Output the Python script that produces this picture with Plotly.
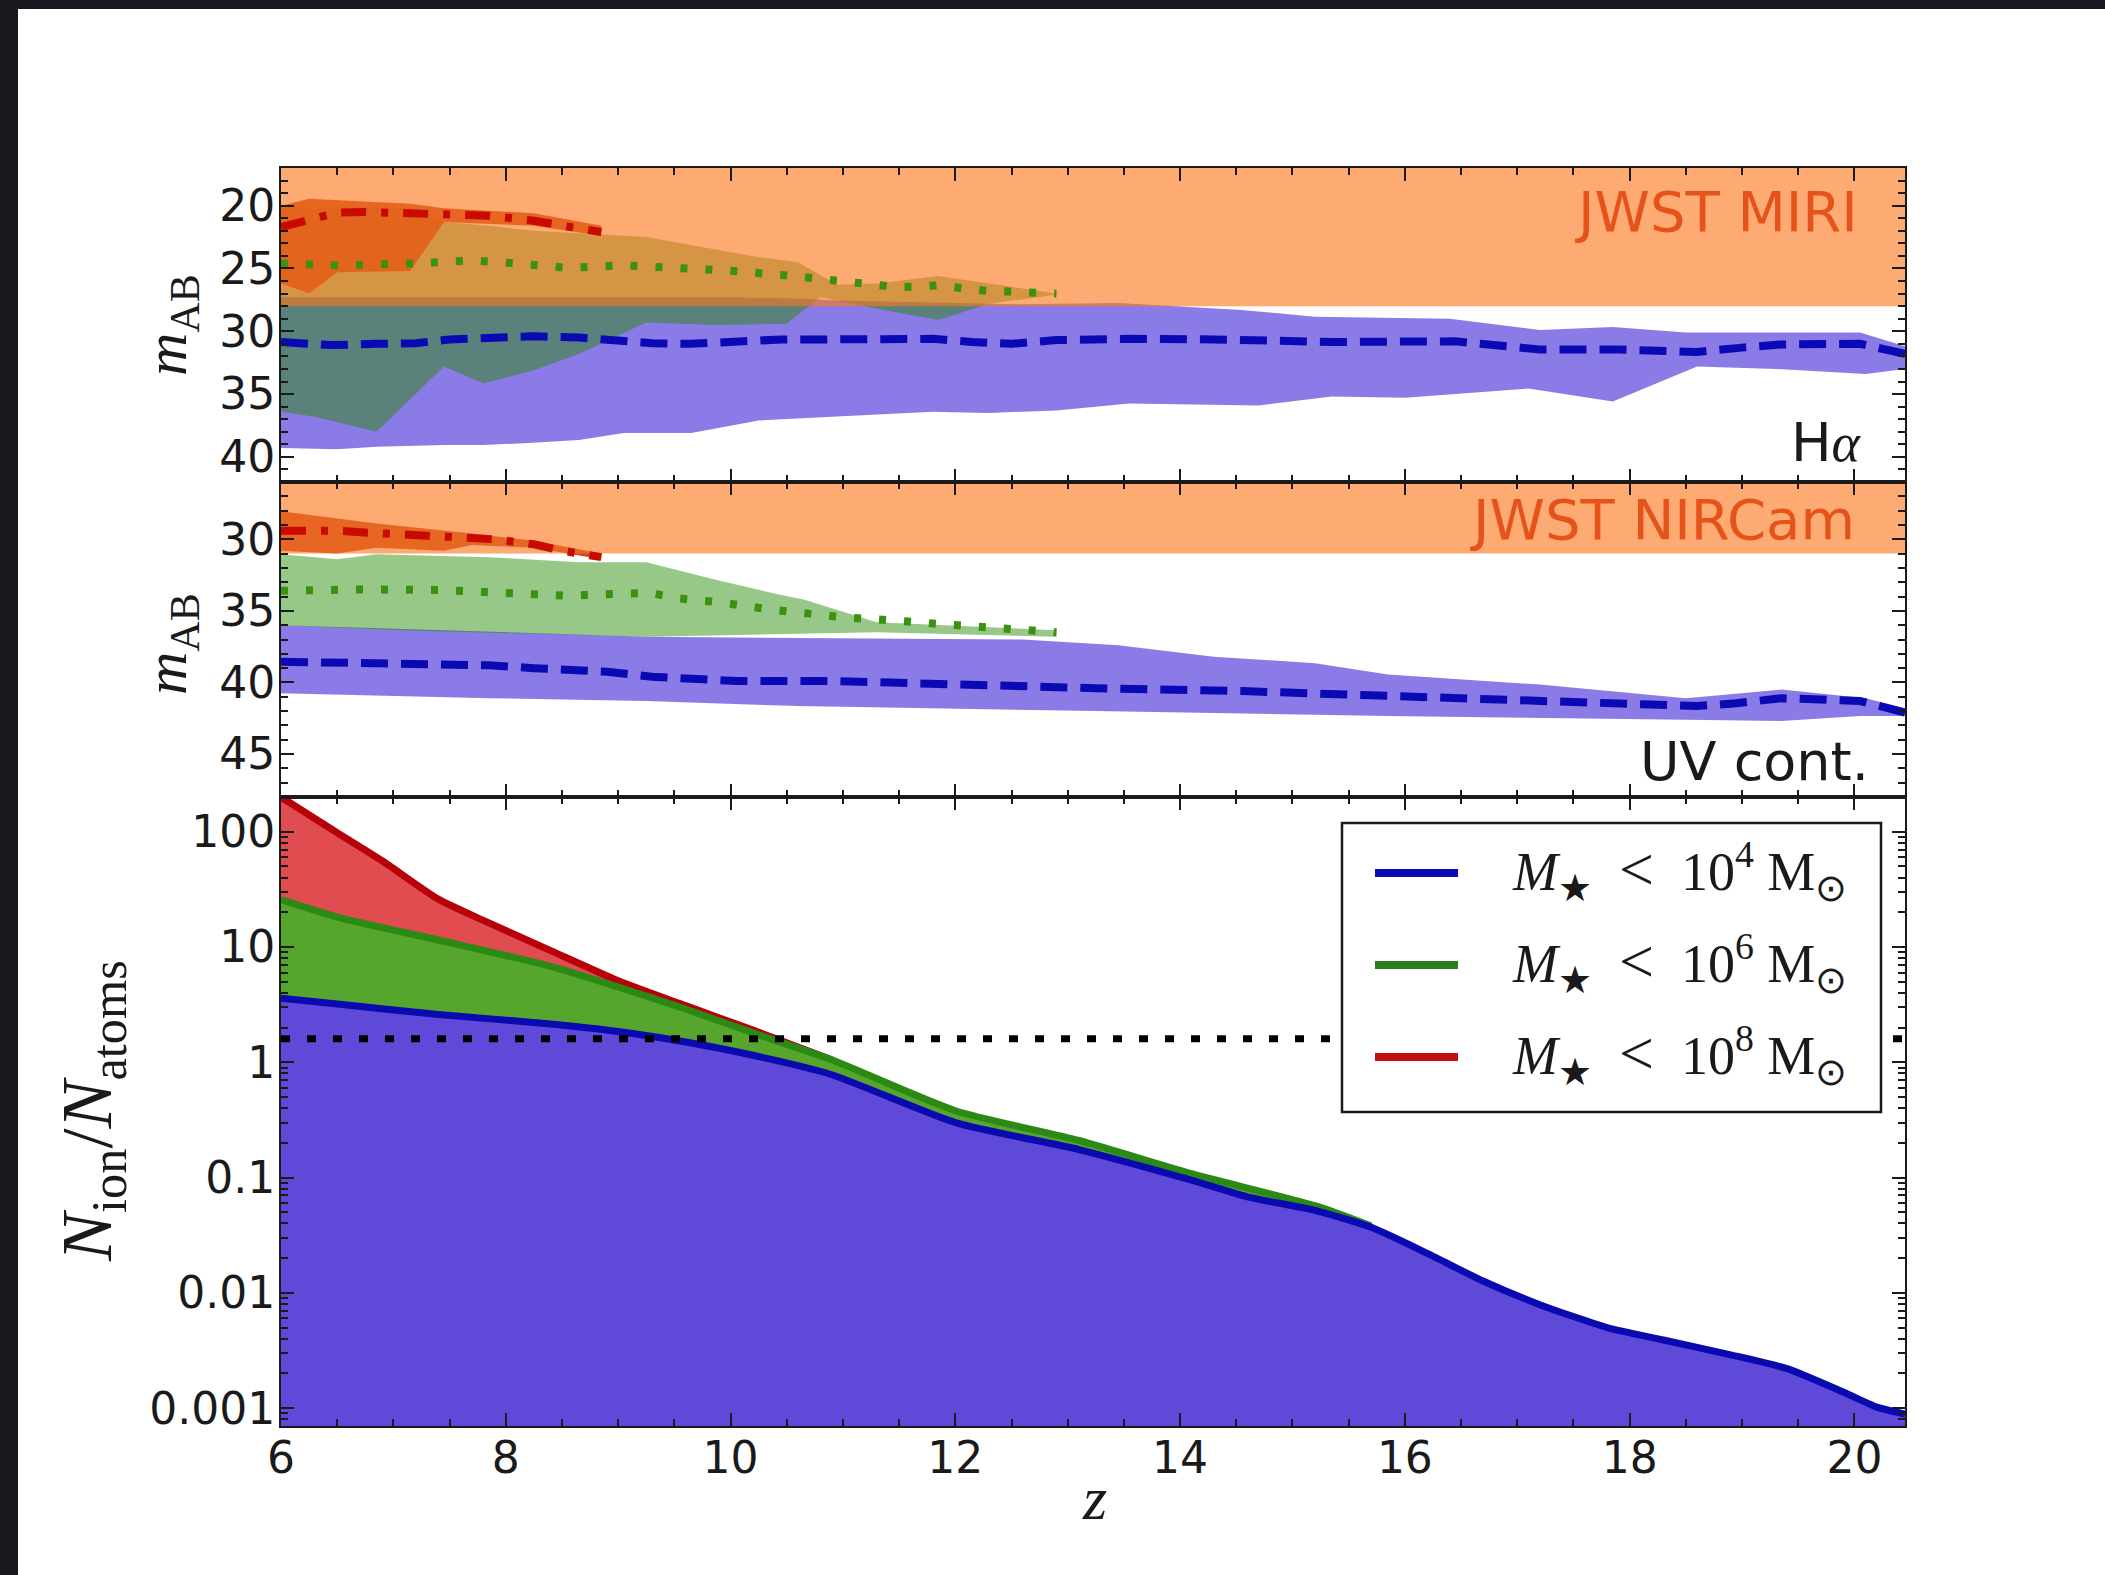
import numpy as np
import plotly.graph_objects as go

# ------------------------------------------------------------------
# Redshift range and instrument detection limits (AB magnitudes)
# ------------------------------------------------------------------
Z_MIN, Z_MAX = 6.0, 20.45
MIRI_LIMIT = 28.0
NIRCAM_LIMIT = 31.0
NION_THRESHOLD = 1.6

# ------------------------------------------------------------------
# H-alpha apparent magnitudes (top panel)
# ------------------------------------------------------------------
z_ha_1e4 = [6.0, 6.45, 6.85, 7.2, 7.5, 7.9, 8.25, 8.65, 8.95, 9.3, 9.65, 10.0, 10.45,
            10.85, 11.8, 12.15, 12.5, 12.9, 13.55, 14.3, 15.35, 16.45, 16.8, 17.2,
            17.9, 18.25, 18.6, 19.0, 19.35, 20.05, 20.45]
ha_1e4 = [30.85, 31.1, 31.0, 30.95, 30.65, 30.45, 30.4, 30.5, 30.7, 30.95, 31.0, 30.8,
          30.65, 30.65, 30.6, 30.85, 31.0, 30.7, 30.6, 30.65, 30.85, 30.8, 31.1, 31.45,
          31.45, 31.5, 31.65, 31.3, 31.05, 31.0, 31.8]
z_ha_1e4_hi = [6.0, 7.0, 8.0, 9.0, 10.0, 10.6, 10.95, 11.8, 12.6, 13.45, 14.55, 15.2,
               16.4, 17.2, 17.85, 18.5, 20.05, 20.45]
ha_1e4_hi = [27.3, 27.3, 27.25, 27.3, 27.3, 27.4, 27.55, 27.7, 27.85, 27.75, 28.3, 28.85,
             29.0, 29.9, 29.65, 30.1, 30.1, 31.2]
z_ha_1e4_lo = [6.0, 6.5, 6.85, 7.45, 7.8, 8.2, 8.65, 9.05, 9.65, 10.25, 10.9, 11.8, 12.3,
               12.9, 13.55, 14.1, 14.7, 15.35, 16.0, 16.6, 17.1, 17.85, 18.6, 19.3, 20.1,
               20.45]
ha_1e4_lo = [39.3, 39.4, 39.2, 39.05, 39.05, 38.9, 38.65, 38.1, 38.1, 37.1, 36.8, 36.4,
             36.5, 36.3, 35.75, 35.8, 35.9, 35.2, 35.3, 34.9, 34.55, 35.6, 32.8, 33.0,
             33.4, 33.0]

z_ha_1e6 = [6.0, 6.5, 7.2, 7.7, 8.1, 8.55, 9.05, 9.45, 9.95, 10.5, 10.9, 11.1, 11.5,
            11.85, 12.25, 12.9]
ha_1e6 = [24.6, 24.75, 24.6, 24.35, 24.6, 24.95, 24.75, 24.9, 25.15, 25.55, 25.9, 26.2,
          26.5, 26.35, 26.75, 27.0]
z_ha_1e6_hi = [6.0, 7.2, 7.45, 7.85, 8.25, 9.05, 9.25, 10.25, 10.6, 10.95, 11.3, 11.85,
               12.3, 12.9]
ha_1e6_hi = [20.0, 20.2, 21.3, 21.6, 22.0, 22.4, 22.5, 24.1, 24.5, 26.3, 26.2, 25.6,
             26.2, 27.0]
z_ha_1e6_lo = [6.0, 6.3, 6.85, 7.45, 7.8, 8.25, 8.65, 9.25, 9.85, 10.5, 10.8, 11.3,
               11.85, 12.3, 12.9]
ha_1e6_lo = [36.4, 36.8, 38.0, 32.8, 34.15, 33.1, 31.8, 29.3, 29.5, 29.4, 27.3, 28.2,
             29.1, 27.8, 27.1]

z_ha_1e8 = [6.0, 6.5, 6.75, 7.45, 7.85, 8.25, 8.65, 8.85]
ha_1e8 = [21.7, 20.55, 20.5, 20.65, 20.8, 21.2, 21.7, 22.1]
z_ha_1e8_hi = [6.0, 6.25, 7.15, 7.45, 8.25, 8.85]
ha_1e8_hi = [20.0, 19.45, 19.85, 20.2, 20.6, 21.6]
z_ha_1e8_lo = [6.0, 6.25, 6.5, 7.15, 7.45, 8.25, 8.85]
ha_1e8_lo = [26.2, 27.0, 25.3, 25.2, 21.3, 21.6, 22.4]

# ------------------------------------------------------------------
# UV continuum apparent magnitudes (middle panel)
# ------------------------------------------------------------------
z_uv_1e4 = [6.0, 6.6, 7.45, 7.85, 8.25, 8.65, 8.9, 9.3, 9.65, 10.05, 10.9, 11.95, 13.25,
            14.55, 15.85, 17.2, 17.85, 18.6, 18.95, 19.35, 20.05, 20.45]
uv_1e4 = [38.55, 38.6, 38.65, 38.8, 39.0, 39.1, 39.25, 39.6, 39.8, 39.9, 39.9, 40.15,
          40.4, 40.6, 40.95, 41.25, 41.45, 41.65, 41.45, 41.1, 41.3, 42.1]
z_uv_1e4_hi = [6.0, 7.05, 7.85, 9.25, 10.6, 12.6, 13.45, 14.3, 15.2, 15.85, 17.2, 18.5,
               19.35, 20.1, 20.45]
uv_1e4_hi = [36.0, 36.25, 36.45, 36.8, 36.9, 37.0, 37.4, 38.2, 38.65, 39.45, 40.15, 41.1,
             40.5, 41.1, 41.8]
z_uv_1e4_lo = [6.0, 7.85, 9.25, 10.6, 13.25, 15.85, 18.5, 19.35, 20.05, 20.45]
uv_1e4_lo = [40.75, 41.1, 41.3, 41.65, 42.0, 42.35, 42.6, 42.7, 42.35, 42.35]

z_uv_1e6 = [6.0, 6.7, 7.45, 8.1, 8.55, 9.05, 9.3, 9.5, 9.9, 10.35, 10.8, 11.0, 11.4,
            11.8, 12.2, 12.6, 12.9]
uv_1e6 = [33.6, 33.5, 33.55, 33.75, 33.95, 33.8, 33.75, 34.1, 34.4, 34.9, 35.3, 35.45,
          35.65, 35.9, 36.1, 36.35, 36.5]
z_uv_1e6_hi = [6.0, 6.5, 6.85, 7.85, 8.65, 9.25, 9.85, 10.45, 10.65, 11.3, 12.9]
uv_1e6_hi = [31.05, 31.4, 31.05, 31.25, 31.6, 31.6, 32.8, 33.9, 34.2, 35.8, 36.35]
z_uv_1e6_lo = [6.0, 7.05, 8.25, 9.25, 10.6, 11.3, 12.9]
uv_1e6_lo = [36.0, 36.35, 36.6, 36.8, 36.6, 36.5, 36.8]

z_uv_1e8 = [6.0, 6.5, 6.8, 7.2, 7.7, 7.9, 8.25, 8.5, 8.85]
uv_1e8 = [29.4, 29.4, 29.55, 29.75, 29.9, 30.0, 30.35, 30.8, 31.25]
z_uv_1e8_hi = [6.0, 6.85, 7.7, 8.25, 8.85]
uv_1e8_hi = [28.05, 28.9, 29.6, 30.1, 31.0]
z_uv_1e8_lo = [6.0, 6.5, 6.85, 7.45, 7.7, 8.25, 8.85]
uv_1e8_lo = [30.8, 31.0, 30.6, 30.8, 30.4, 30.6, 31.4]

# ------------------------------------------------------------------
# Ionizing photons per atom (bottom panel)
# ------------------------------------------------------------------
z_nion_1e4 = [6.0, 6.5, 7.4, 8.4, 9.0, 9.6, 10.2, 10.9, 12.0, 13.1, 14.1, 14.6, 15.2,
              15.7, 16.2, 16.7, 17.2, 17.8, 18.3, 18.9, 19.4, 19.9, 20.2, 20.45]
nion_1e4 = [3.6, 3.2, 2.6, 2.15, 1.85, 1.5, 1.15, 0.78, 0.30, 0.175, 0.095, 0.068, 0.052,
            0.037, 0.022, 0.0126, 0.0079, 0.0050, 0.0039, 0.0029, 0.0022, 0.00138,
            0.00102, 0.00089]
z_nion_1e6 = [6.0, 6.5, 7.4, 8.4, 9.0, 9.6, 10.2, 10.9, 12.0, 13.1, 14.1, 15.2, 15.7]
nion_1e6 = [25.8, 18.2, 11.5, 6.8, 4.5, 2.9, 1.8, 1.05, 0.38, 0.21, 0.108, 0.057, 0.038]
z_nion_1e8 = [6.0, 6.5, 6.9, 7.4, 7.8, 8.4, 9.0, 9.6, 10.2, 10.9]
nion_1e8 = [200, 98, 56, 26, 17, 9.3, 5.1, 3.1, 1.9, 1.05]

# Axis tick labels
z_ticks = [6, 8, 10, 12, 14, 16, 18, 20]
ha_ticks = [20, 25, 30, 35, 40]
uv_ticks = [30, 35, 40, 45]
nion_ticks = [0.001, 0.01, 0.1, 1, 10, 100]
nion_ticklabels = ["0.001", "0.01", "0.1", "1", "10", "100"]

LT = '&nbsp;&nbsp;<span style="font-size:62px">&lt;</span>&nbsp;&nbsp;'
legend_labels = [
    "<i>M</i><sub>★</sub>" + LT + "10<sup>4</sup> M<sub>⊙</sub>",
    "<i>M</i><sub>★</sub>" + LT + "10<sup>6</sup> M<sub>⊙</sub>",
    "<i>M</i><sub>★</sub>" + LT + "10<sup>8</sup> M<sub>⊙</sub>",
]

# ------------------------------------------------------------------
# Styling
# ------------------------------------------------------------------
W, H = 2105, 1575
PL, PR, PT, PB = 281, 1905, 168, 1426          # plot area in pixels
HA_RANGE = [42.0, 17.0]
UV_RANGE = [48.0, 26.0]
NION_FLOOR = 1e-4
NION_RANGE = [np.log10(7e-4), np.log10(200)]

BAND_BLUE = "rgba(110,90,225,0.8)"
BAND_GREEN = "rgba(36,138,0,0.47)"
BAND_RED = "rgba(190,60,20,0.9)"
BAND_JWST = "rgba(252,118,29,0.62)"
LINE_BLUE = "#0a0ab4"
LINE_GREEN = "#3a9210"
LINE_RED = "#c80a00"
FILL_BLUE, EDGE_BLUE = "#5f49d8", "#0a0ab0"
FILL_GREEN, EDGE_GREEN = "#56a62e", "#2a8a14"
FILL_RED, EDGE_RED = "#e04c50", "#b80008"
TEXT_JWST = "#e5531a"
INK = "#1a1a1a"
SANS = "DejaVu Sans"
SERIF = "Liberation Serif"


def px_x(px):
    return (px - PL) / (PR - PL)


def px_y(py):
    return (PB - py) / (PB - PT)


fig = go.Figure()


def add_band(z_hi, hi, z_lo, lo, color, xa, ya):
    fig.add_trace(go.Scatter(x=z_hi, y=hi, mode="lines", line=dict(width=0),
                             hoverinfo="skip", showlegend=False, xaxis=xa, yaxis=ya))
    fig.add_trace(go.Scatter(x=z_lo, y=lo, mode="lines", line=dict(width=0),
                             fill="tonexty", fillcolor=color, hoverinfo="skip",
                             showlegend=False, xaxis=xa, yaxis=ya))


def add_limit(limit, top, xa, ya):
    # detection-limit band: everything brighter than the limit
    fig.add_trace(go.Scatter(x=[Z_MIN, Z_MAX, Z_MAX, Z_MIN], y=[limit, limit, top, top],
                             mode="lines", line=dict(width=0), fill="toself",
                             fillcolor=BAND_JWST, hoverinfo="skip", showlegend=False,
                             xaxis=xa, yaxis=ya))


def add_median(z, m, color, dash, xa, ya):
    fig.add_trace(go.Scatter(x=z, y=m, mode="lines",
                             line=dict(color=color, width=8, dash=dash),
                             showlegend=False, xaxis=xa, yaxis=ya))


DASH_BLUE = "27px,13px"
DOT_GREEN = "7px,18px"
DASHDOT_RED = "25px,15px,7px,15px"

# Top panel: H-alpha
add_band(z_ha_1e4_hi, ha_1e4_hi, z_ha_1e4_lo, ha_1e4_lo, BAND_BLUE, "x3", "y3")
add_band(z_ha_1e6_hi, ha_1e6_hi, z_ha_1e6_lo, ha_1e6_lo, BAND_GREEN, "x3", "y3")
add_band(z_ha_1e8_hi, ha_1e8_hi, z_ha_1e8_lo, ha_1e8_lo, BAND_RED, "x3", "y3")
add_limit(MIRI_LIMIT, HA_RANGE[1], "x3", "y3")
add_median(z_ha_1e4, ha_1e4, LINE_BLUE, DASH_BLUE, "x3", "y3")
add_median(z_ha_1e6, ha_1e6, LINE_GREEN, DOT_GREEN, "x3", "y3")
add_median(z_ha_1e8, ha_1e8, LINE_RED, DASHDOT_RED, "x3", "y3")

# Middle panel: UV continuum
add_band(z_uv_1e4_hi, uv_1e4_hi, z_uv_1e4_lo, uv_1e4_lo, BAND_BLUE, "x2", "y2")
add_band(z_uv_1e6_hi, uv_1e6_hi, z_uv_1e6_lo, uv_1e6_lo, BAND_GREEN, "x2", "y2")
add_band(z_uv_1e8_hi, uv_1e8_hi, z_uv_1e8_lo, uv_1e8_lo, BAND_RED, "x2", "y2")
add_limit(NIRCAM_LIMIT, UV_RANGE[1], "x2", "y2")
add_median(z_uv_1e4, uv_1e4, LINE_BLUE, DASH_BLUE, "x2", "y2")
add_median(z_uv_1e6, uv_1e6, LINE_GREEN, DOT_GREEN, "x2", "y2")
add_median(z_uv_1e8, uv_1e8, LINE_RED, DASHDOT_RED, "x2", "y2")

# Bottom panel: cumulative ionizing photons per atom, stacked by mass cut
for z, n, fill, edge in [(z_nion_1e8, nion_1e8, FILL_RED, EDGE_RED),
                         (z_nion_1e6, nion_1e6, FILL_GREEN, EDGE_GREEN),
                         (z_nion_1e4, nion_1e4, FILL_BLUE, EDGE_BLUE)]:
    fig.add_trace(go.Scatter(x=z, y=[NION_FLOOR] * len(z), mode="lines",
                             line=dict(width=0), hoverinfo="skip", showlegend=False,
                             xaxis="x", yaxis="y"))
    fig.add_trace(go.Scatter(x=z, y=n, mode="lines",
                             line=dict(color=edge, width=7, shape="spline", smoothing=0.6),
                             fill="tonexty", fillcolor=fill, showlegend=False,
                             xaxis="x", yaxis="y"))

fig.add_trace(go.Scatter(x=[Z_MIN, Z_MAX], y=[NION_THRESHOLD, NION_THRESHOLD],
                         mode="lines", line=dict(color="black", width=7, dash="9px,17px"),
                         showlegend=False, xaxis="x", yaxis="y"))

# ------------------------------------------------------------------
# Axes
# ------------------------------------------------------------------
tickfont = dict(family=SANS, size=44, color=INK)
common = dict(showline=True, linecolor=INK, linewidth=2, mirror="allticks",
              ticks="inside", ticklen=13, tickwidth=2, tickcolor=INK,
              showgrid=False, zeroline=False, tickfont=tickfont)
xminor = dict(ticks="inside", ticklen=7, tickwidth=1.5, tickcolor=INK,
              dtick=0.5, tick0=Z_MIN, showgrid=False)
yminor = dict(ticks="inside", ticklen=7, tickwidth=1.5, tickcolor=INK,
              dtick=1, tick0=0, showgrid=False)
log_minor = [m * 10.0 ** k for k in range(-4, 3) for m in range(2, 10)]

D_LOW, D_MID = 0.5, (PB - 482) / (PB - PT)

fig.update_layout(
    width=W, height=H, autosize=False,
    margin=dict(l=PL, r=W - PR, t=PT, b=H - PB),
    paper_bgcolor="white", plot_bgcolor="white",
    showlegend=False,
    xaxis=dict(common, domain=[0, 1], anchor="y", range=[Z_MIN, Z_MAX],
               tickvals=z_ticks, minor=xminor, ticklabelstandoff=-8),
    xaxis2=dict(common, domain=[0, 1], anchor="y2", matches="x", range=[Z_MIN, Z_MAX],
                tickvals=z_ticks, minor=xminor, showticklabels=False),
    xaxis3=dict(common, domain=[0, 1], anchor="y3", matches="x", range=[Z_MIN, Z_MAX],
                tickvals=z_ticks, minor=xminor, showticklabels=False),
    yaxis=dict(common, domain=[0, D_LOW], anchor="x", type="log", range=NION_RANGE,
               tickvals=nion_ticks, ticktext=nion_ticklabels, ticklabelstandoff=-5,
               minor=dict(ticks="inside", ticklen=7, tickwidth=1.5, tickcolor=INK,
                          tickvals=log_minor, showgrid=False)),
    yaxis2=dict(common, domain=[D_LOW, D_MID], anchor="x2", range=UV_RANGE,
                tickvals=uv_ticks, minor=yminor, ticklabelstandoff=-5),
    yaxis3=dict(common, domain=[D_MID, 1], anchor="x3", range=HA_RANGE,
                tickvals=ha_ticks, minor=yminor, ticklabelstandoff=-5),
)

# ------------------------------------------------------------------
# Labels and annotations
# ------------------------------------------------------------------
ann = []


def label(text, x, y, size, family=SANS, color=INK, xanchor="center", angle=0):
    ann.append(dict(text=text, x=px_x(x), y=px_y(y), xref="paper", yref="paper",
                    showarrow=False, xanchor=xanchor, yanchor="middle",
                    textangle=angle, font=dict(family=family, size=size, color=color)))


label("JWST MIRI", 1860, 212, 56, color=TEXT_JWST, xanchor="right")
label('H<span style="font-family:Liberation Serif"><i>α</i></span>', 1864, 442, 54,
      xanchor="right")
label("JWST NIRCam", 1857, 519, 56, color=TEXT_JWST, xanchor="right")
label("UV cont.", 1871, 761, 54, xanchor="right")

label("<i>m</i><sub>AB</sub>", 170, 325, 60, family=SERIF, angle=-90)
label("<i>m</i><sub>AB</sub>", 170, 644, 60, family=SERIF, angle=-90)
label("<i>N</i><sub>ion</sub>/<i>N</i><sub>atoms</sub>", 92, 1111, 72, family=SERIF,
      angle=-90)
label("<i>z</i>", 1094, 1498, 62, family=SERIF)

# Legend box drawn as shapes with text
shapes = []
shapes.append(dict(type="rect", xref="paper", yref="paper",
                   x0=px_x(1342), x1=px_x(1881), y0=px_y(1112), y1=px_y(823),
                   fillcolor="white", line=dict(color=INK, width=2.5), layer="above"))
for yy, col, txt in zip([873, 965, 1057], [EDGE_BLUE, "#2b7d1c", "#c01010"], legend_labels):
    shapes.append(dict(type="line", xref="paper", yref="paper",
                       x0=px_x(1375), x1=px_x(1458), y0=px_y(yy), y1=px_y(yy),
                       line=dict(color=col, width=8), layer="above"))
    label(txt, 1510, yy - 2, 54, family=SERIF, xanchor="left")

# Dark frame on the left and top edges of the canvas
FRAME = "#16181e"
shapes.append(dict(type="rect", xref="paper", yref="paper", x0=px_x(0), x1=px_x(18),
                   y0=px_y(H), y1=px_y(0), fillcolor=FRAME, line=dict(width=0),
                   layer="above"))
shapes.append(dict(type="rect", xref="paper", yref="paper", x0=px_x(0), x1=px_x(W),
                   y0=px_y(9), y1=px_y(0), fillcolor=FRAME, line=dict(width=0),
                   layer="above"))

fig.update_layout(annotations=ann, shapes=shapes)

# Keep the page exactly the size of the figure (no scrollbars)
PAGE_CSS = ("document.documentElement.style.overflow='hidden';"
            "document.body.style.overflow='hidden';"
            "document.body.style.margin='0';")

fig.write_html("out.html", post_script=PAGE_CSS)
